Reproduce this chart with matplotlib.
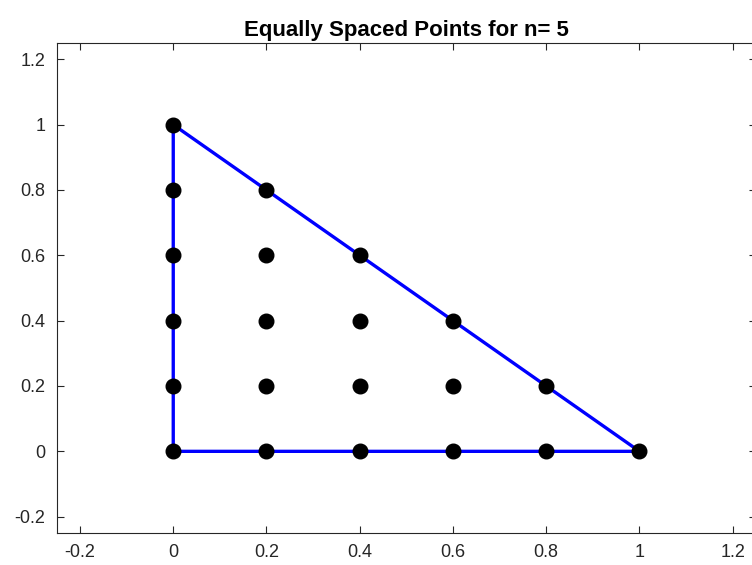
import matplotlib
matplotlib.use("Agg")
import matplotlib.pyplot as plt

plt.rcParams['font.family'] = ['Liberation Sans', 'DejaVu Sans']

# Triangle boundary
tri_x = [0, 1, 0, 0]
tri_y = [0, 0, 1, 0]

# Equally spaced lattice points (n = 5)
pts_x = [0, 0.2, 0.4, 0.6, 0.8, 1.0,
         0, 0.2, 0.4, 0.6, 0.8,
         0, 0.2, 0.4, 0.6,
         0, 0.2, 0.4,
         0, 0.2,
         0]
pts_y = [0, 0, 0, 0, 0, 0,
         0.2, 0.2, 0.2, 0.2, 0.2,
         0.4, 0.4, 0.4, 0.4,
         0.6, 0.6, 0.6,
         0.8, 0.8,
         1.0]

ticks = [-0.2, 0, 0.2, 0.4, 0.6, 0.8, 1, 1.2]
tick_labels = ['-0.2', '0', '0.2', '0.4', '0.6', '0.8', '1', '1.2']

fig = plt.figure(figsize=(7.52, 5.65), dpi=100)
ax = fig.add_axes([56.7/752, 32/565, (756-56.7)/752, 490/565])

ax.plot(tri_x, tri_y, color='#0000ff', linewidth=2.4, zorder=2)
ax.plot(pts_x, pts_y, linestyle='none', marker='o', markersize=10.5,
        color='black', zorder=3)

ax.set_xlim(-0.25, 1.25)
ax.set_ylim(-0.25, 1.25)
ax.set_xticks(ticks)
ax.set_xticklabels(tick_labels)
ax.set_yticks(ticks)
ax.set_yticklabels(tick_labels)

gray = '#262626'
for s in ax.spines.values():
    s.set_color(gray)
    s.set_linewidth(0.8)
ax.tick_params(direction='in', top=True, right=True, length=5, width=0.8,
               colors=gray, labelsize=13, labelcolor=gray, pad=8)

ax.set_title('Equally Spaced Points for n= 5', fontsize=16, fontweight='bold',
             color='black', pad=5)

fig.savefig('out.png', dpi=100)
